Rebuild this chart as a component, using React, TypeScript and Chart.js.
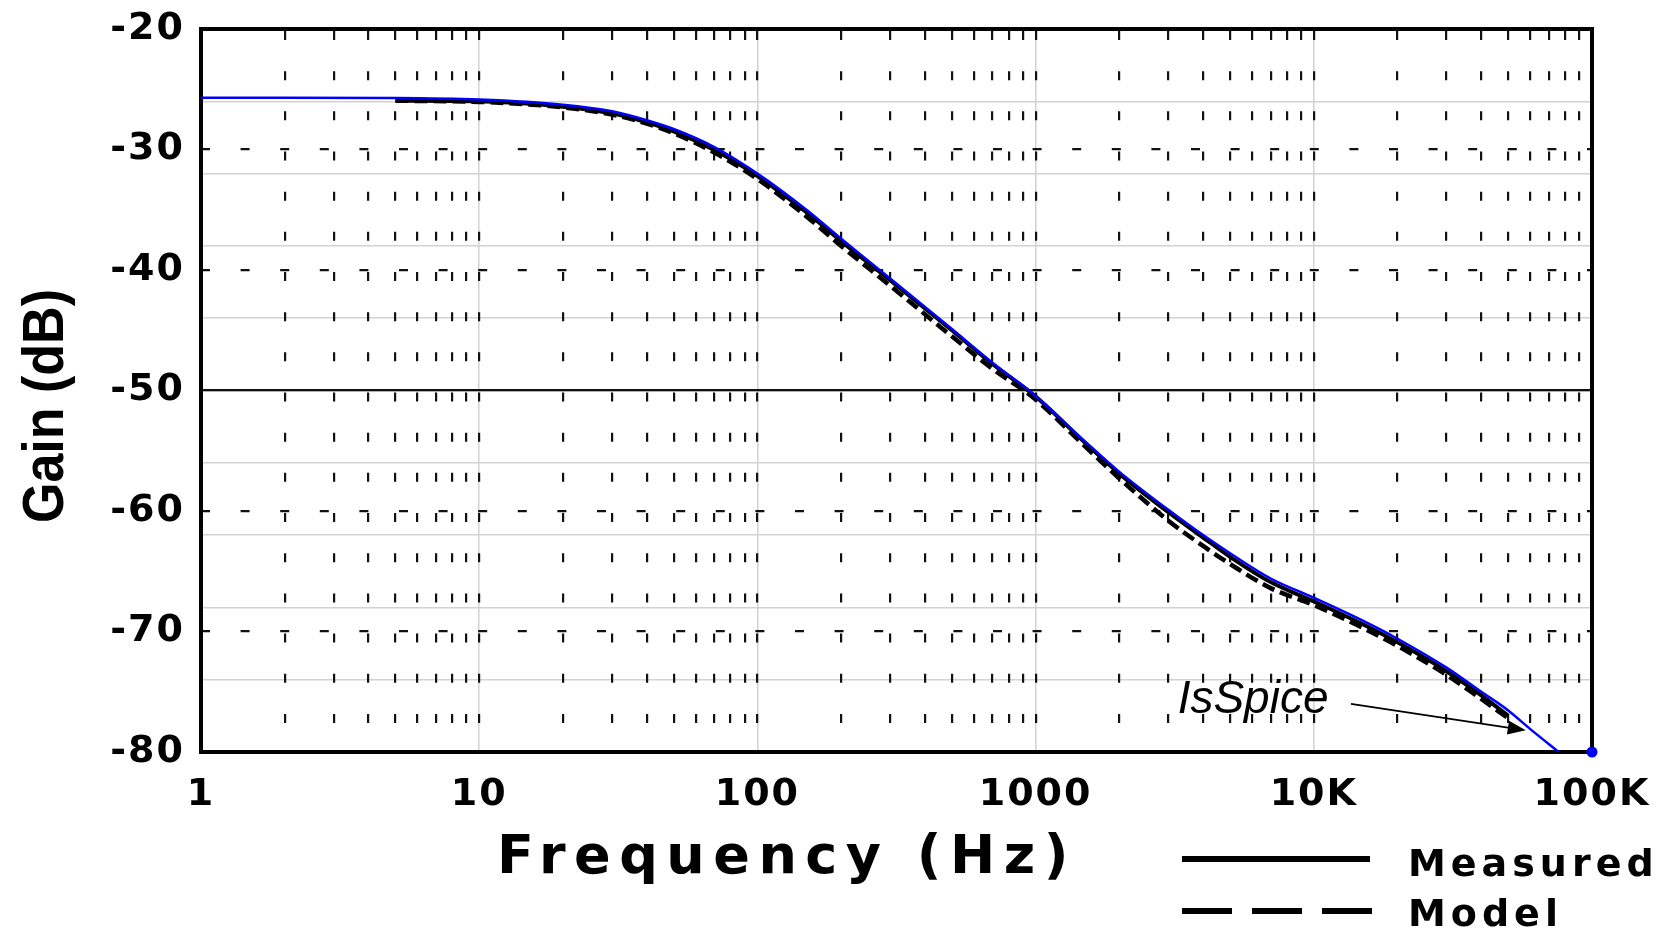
import React, { useEffect, useRef } from "react";
import { Chart, registerables } from "chart.js";

Chart.register(...registerables);

// ---------- axes ----------
const X_MIN = 1;
const X_MAX = 100000;
const X_MAJOR = [1, 10, 100, 1000, 10000, 100000];
const X_LABELS = ["1", "10", "100", "1000", "10K", "100K"];
const X_MINOR_STEPS = [1, 2, 3, 4, 5, 6, 7, 8, 9];
const Y_MIN = -80;
const Y_MAX = -20;
const Y_TICKS = [-80, -70, -60, -50, -40, -30, -20];
const Y_REF_LINE = -50;
const Y_GRAY_TICKS = [-80, -74, -68, -62, -56, -50, -44, -38, -32, -26, -20];

// ---------- series ----------
const ISSPICE_FREQ = [1, 2, 5, 10, 20, 30, 40, 50, 70, 100, 150, 200, 300, 500, 700, 1000, 1500, 2000, 3000, 4000, 5000, 7000, 10000, 15000, 20000, 30000, 40000, 50000, 60000, 76000];
const ISSPICE_GAIN = [-25.7, -25.7, -25.72, -25.85, -26.28, -26.83, -27.57, -28.3, -29.8, -32.0, -35.0, -37.4, -40.7, -44.9, -47.7, -50.45, -54.2, -56.75, -59.9, -62.0, -63.5, -65.6, -67.2, -69.1, -70.6, -73.0, -75.0, -76.55, -78.1, -80.0];

const MEAS_FREQ = [5, 10, 20, 30, 40, 50, 70, 100, 150, 200, 300, 500, 700, 1000, 1500, 2000, 3000, 4000, 5000, 7000, 10000, 15000, 20000, 30000, 40000, 50000];
const MEASURED_GAIN = [-25.95, -26.0, -26.45, -27.0, -27.75, -28.5, -30.05, -32.2, -35.2, -37.6, -40.85, -45.0, -47.8, -50.5, -54.3, -56.9, -60.1, -62.2, -63.8, -65.9, -67.5, -69.4, -70.9, -73.3, -75.3, -77.0];
const MODEL_GAIN = [-25.95, -26.05, -26.5, -27.1, -27.85, -28.65, -30.25, -32.45, -35.55, -38.0, -41.3, -45.5, -48.2, -50.75, -54.6, -57.3, -60.8, -62.9, -64.4, -66.4, -67.8, -69.7, -71.2, -73.6, -75.6, -77.2];

const ISSPICE_END_MARK = [100000, -80];

// ---------- texts ----------
const X_TITLE = "Frequency (Hz)";
const Y_TITLE = "Gain (dB)";
const LEGEND_LABELS = ["Measured", "Model"];
const ANNOT_TEXT = "IsSpice";
const ANNOT_TEXT_AT = [3240, -76.8];
const ANNOT_ARROW_FROM = [13600, -76.0];
const ANNOT_ARROW_TO = [57800, -78.2];

const W = 1666;
const H = 931;
const AREA = { left: 201, right: 1592, top: 29, bottom: 752 };

const TICK_FONT = { family: "'DejaVu Sans', sans-serif", weight: "bold" as const, size: 38 };

const zeroPadding = (s: any) => {
  s.paddingTop = 0;
  s.paddingBottom = 0;
  s.paddingLeft = 0;
  s.paddingRight = 0;
};

const decorPlugin = {
  id: "decor",
  beforeDraw(chart: any) {
    (chart.ctx as any).letterSpacing = "2px";
  },
  beforeDatasetsDraw(chart: any) {
    const { ctx, chartArea: a } = chart;
    ctx.save();
    (ctx as any).letterSpacing = "0px";
    ctx.lineWidth = 4;
    ctx.strokeStyle = "#000";
    ctx.strokeRect(a.left, a.top, a.right - a.left, a.bottom - a.top);
    ctx.restore();
  },
  afterDraw(chart: any) {
    const ctx: CanvasRenderingContext2D = chart.ctx;
    const xs = chart.scales.x;
    const ys = chart.scales.y;
    ctx.save();
    (ctx as any).letterSpacing = "0px";
    ctx.fillStyle = "#000";
    ctx.strokeStyle = "#000";

    // annotation
    ctx.font = "italic 46px 'Liberation Sans', Arial, sans-serif";
    ctx.textAlign = "left";
    ctx.textBaseline = "alphabetic";
    ctx.fillText(ANNOT_TEXT, xs.getPixelForValue(ANNOT_TEXT_AT[0]), ys.getPixelForValue(ANNOT_TEXT_AT[1]));
    const x1 = xs.getPixelForValue(ANNOT_ARROW_FROM[0]);
    const y1 = ys.getPixelForValue(ANNOT_ARROW_FROM[1]);
    const x2 = xs.getPixelForValue(ANNOT_ARROW_TO[0]);
    const y2 = ys.getPixelForValue(ANNOT_ARROW_TO[1]);
    const ang = Math.atan2(y2 - y1, x2 - x1);
    const head = 18;
    const hw = 7;
    const bx = x2 - head * Math.cos(ang);
    const by = y2 - head * Math.sin(ang);
    ctx.lineWidth = 1.8;
    ctx.beginPath();
    ctx.moveTo(x1, y1);
    ctx.lineTo(bx, by);
    ctx.stroke();
    ctx.beginPath();
    ctx.moveTo(x2, y2);
    ctx.lineTo(bx + hw * Math.sin(ang), by - hw * Math.cos(ang));
    ctx.lineTo(bx - hw * Math.sin(ang), by + hw * Math.cos(ang));
    ctx.closePath();
    ctx.fill();

    // x title
    ctx.font = "bold 54px 'DejaVu Sans', sans-serif";
    (ctx as any).letterSpacing = "8.5px";
    ctx.textAlign = "left";
    ctx.fillText(X_TITLE, 497, 873);

    // y title
    (ctx as any).letterSpacing = "0px";
    ctx.save();
    ctx.translate(47, 406);
    ctx.rotate(-Math.PI / 2);
    ctx.font = "bold 58px 'Liberation Sans', Arial, sans-serif";
    ctx.textAlign = "center";
    ctx.textBaseline = "middle";
    ctx.fillText(Y_TITLE, 0, 0, 234);
    ctx.restore();

    // legend
    ctx.lineWidth = 6;
    ctx.beginPath();
    ctx.moveTo(1182, 859);
    ctx.lineTo(1370, 859);
    ctx.stroke();
    ctx.setLineDash([50, 20]);
    ctx.beginPath();
    ctx.moveTo(1182, 911);
    ctx.lineTo(1372, 911);
    ctx.stroke();
    ctx.setLineDash([]);
    ctx.font = "bold 38px 'DejaVu Sans', sans-serif";
    (ctx as any).letterSpacing = "5px";
    ctx.textAlign = "left";
    ctx.textBaseline = "alphabetic";
    ctx.fillText(LEGEND_LABELS[0], 1408, 876);
    ctx.fillText(LEGEND_LABELS[1], 1408, 926);
    ctx.restore();
  },
};

export default function App() {
  const ref = useRef<HTMLCanvasElement | null>(null);

  useEffect(() => {
    const canvas = ref.current;
    if (!canvas) return;

    const toPts = (xs: number[], ys: number[]) => xs.map((x, i) => ({ x, y: ys[i] }));
    const minorTicks: number[] = [];
    X_MAJOR.slice(0, -1).forEach((d) => X_MINOR_STEPS.forEach((m) => minorTicks.push(m * d)));
    minorTicks.push(X_MAX);

    const chart = new Chart(canvas, {
      type: "line",
      data: {
        datasets: [
          {
            label: "IsSpice",
            data: toPts(ISSPICE_FREQ, ISSPICE_GAIN),
            borderColor: "#0000ff",
            borderWidth: 2.5,
            pointRadius: 0,
            cubicInterpolationMode: "monotone",
            order: 0,
            xAxisID: "x",
            yAxisID: "y",
          },
          {
            label: "IsSpice end",
            data: [{ x: ISSPICE_END_MARK[0], y: ISSPICE_END_MARK[1] }],
            showLine: false,
            pointRadius: 5.5,
            pointBackgroundColor: "#0000ff",
            pointBorderWidth: 0,
            clip: false as any,
            order: 0,
            xAxisID: "x",
            yAxisID: "y",
          },
          {
            label: "Measured",
            data: toPts(MEAS_FREQ, MEASURED_GAIN),
            borderColor: "#000",
            borderWidth: 4,
            pointRadius: 0,
            cubicInterpolationMode: "monotone",
            order: 1,
            xAxisID: "x",
            yAxisID: "y",
          },
          {
            label: "Model",
            data: toPts(MEAS_FREQ, MODEL_GAIN),
            borderColor: "#000",
            borderWidth: 4.5,
            borderDash: [13, 6],
            pointRadius: 0,
            cubicInterpolationMode: "monotone",
            order: 2,
            xAxisID: "x",
            yAxisID: "y",
          },
        ],
      },
      options: {
        responsive: false,
        animation: false,
        events: [],
        layout: { padding: { left: 0, top: AREA.top, right: W - AREA.right, bottom: 0 } },
        plugins: { legend: { display: false }, tooltip: { enabled: false } },
        scales: {
          yGray: {
            type: "linear",
            position: "right",
            min: Y_MIN,
            max: Y_MAX,
            afterBuildTicks: (s: any) => {
              s.ticks = Y_GRAY_TICKS.map((v) => ({ value: v }));
            },
            afterFit: (s: any) => {
              s.width = 0;
              zeroPadding(s);
            },
            ticks: { display: false },
            grid: { color: "#d2d2d2", lineWidth: 1.5, drawTicks: false },
            border: { display: false },
          },
          x: {
            type: "logarithmic",
            position: "bottom",
            min: X_MIN,
            max: X_MAX,
            afterBuildTicks: (s: any) => {
              s.ticks = X_MAJOR.map((v) => ({ value: v }));
            },
            afterFit: (s: any) => {
              s.height = H - AREA.bottom;
              zeroPadding(s);
            },
            ticks: {
              autoSkip: false,
              maxRotation: 0,
              padding: 20,
              color: "#000",
              font: TICK_FONT,
              callback: (_v: any, i: number) => X_LABELS[i],
            },
            grid: { color: "#d2d2d2", lineWidth: 1.5, drawTicks: false },
            border: { display: false },
          },
          xMinor: {
            type: "logarithmic",
            position: "bottom",
            min: X_MIN,
            max: X_MAX,
            afterBuildTicks: (s: any) => {
              s.ticks = minorTicks.map((v) => ({ value: v }));
            },
            afterFit: (s: any) => {
              s.height = 0;
              zeroPadding(s);
            },
            ticks: { display: false },
            grid: { color: "#111", lineWidth: 2.2, drawTicks: false },
            border: { display: false, dash: [9, 31.17], dashOffset: 38.17 },
          },
          y: {
            type: "linear",
            position: "left",
            min: Y_MIN,
            max: Y_MAX,
            afterBuildTicks: (s: any) => {
              s.ticks = Y_TICKS.map((v) => ({ value: v }));
            },
            afterFit: (s: any) => {
              s.width = AREA.left;
              zeroPadding(s);
            },
            ticks: {
              padding: 16,
              color: "#000",
              font: TICK_FONT,
              callback: (v: any) => String(v),
            },
            grid: {
              color: "#111",
              lineWidth: 2.2,
              drawTicks: false,
            },
            border: {
              display: false,
              dash: (c: any) => (c.tick && c.tick.value === Y_REF_LINE ? [] : [9, 30.6]),
              dashOffset: 0,
            },
          },
        },
      } as any,
      plugins: [decorPlugin],
    });

    return () => chart.destroy();
  }, []);

  return (
    <div style={{ position: "fixed", left: 0, top: 0, width: W, height: H, background: "#fff" }}>
      <canvas ref={ref} width={W} height={H} style={{ display: "block", width: W, height: H }} />
    </div>
  );
}
